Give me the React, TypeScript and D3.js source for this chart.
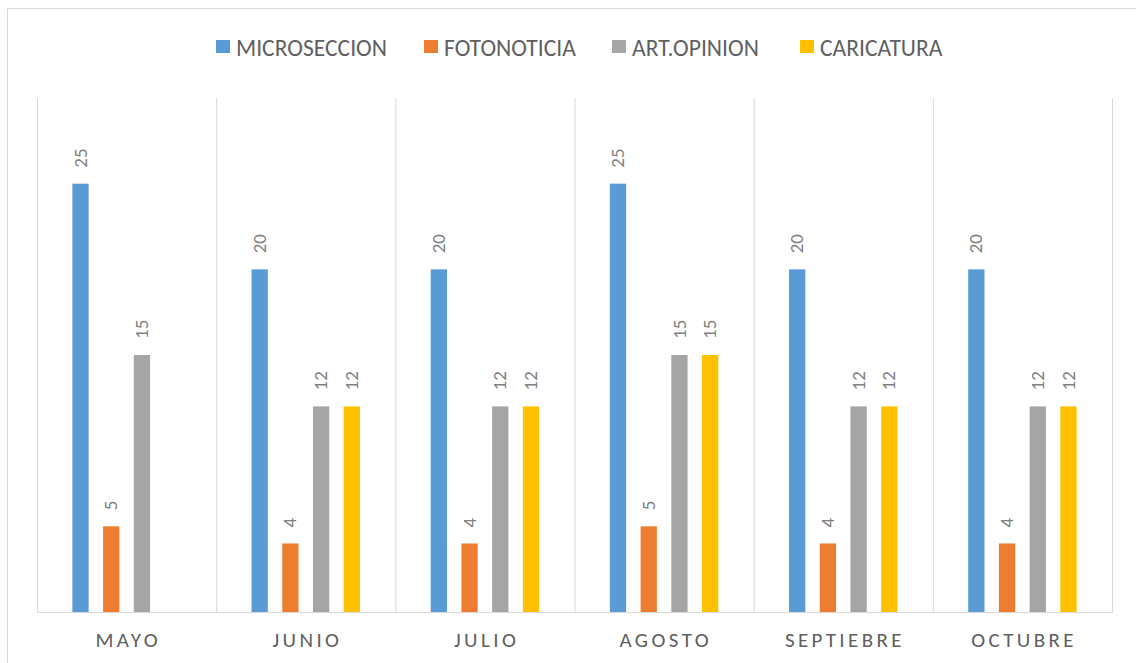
import React from "react";
import * as d3 from "d3";

const categories = ["MAYO", "JUNIO", "JULIO", "AGOSTO", "SEPTIEBRE", "OCTUBRE"];
const seriesNames = ["MICROSECCION", "FOTONOTICIA", "ART.OPINION", "CARICATURA"];
const microseccion = [25, 20, 20, 25, 20, 20];
const fotonoticia = [5, 4, 4, 5, 4, 4];
const artOpinion = [15, 12, 12, 15, 12, 12];
const caricatura = [null, 12, 12, 15, 12, 12];
const colors = ["#5B9BD5", "#ED7D31", "#A5A5A5", "#FFC000"];
const yMax = 30;

const W = 1136;
const H = 663;
const plot = { left: 37, right: 1112, top: 98, bottom: 612 };
const FONT = "Carlito, Calibri, 'Open Sans', sans-serif";

export default function App() {
  const seriesValues = [microseccion, fotonoticia, artOpinion, caricatura];
  const x0 = d3.scaleBand<string>().domain(categories).range([plot.left, plot.right]).paddingInner(0).paddingOuter(0);
  const bw = x0.bandwidth();
  const groupWidth = bw * 0.605;
  const x1 = d3
    .scaleBand<string>()
    .domain(seriesNames)
    .range([(bw - groupWidth) / 2, (bw + groupWidth) / 2])
    .paddingInner(0.47)
    .paddingOuter(0);
  const y = d3.scaleLinear().domain([0, yMax]).range([plot.bottom, plot.top]);

  const legendX = [216, 424, 612, 800];
  const labelSize = 19;
  const catSpacing = 3.4;

  return (
    <svg
      width={W}
      height={H}
      style={{ position: "absolute", left: 0, top: 0, background: "#fff" }}
      fontFamily={FONT}
    >
      <rect x={0} y={0} width={W} height={H} fill="#fff" />
      {/* outer chart border */}
      <path d={`M7.5,${H + 2} V8.5 H${W + 2}`} fill="none" stroke="#d9d9d9" strokeWidth={1} />
      {/* vertical gridlines */}
      {categories.map((c) => (
        <line key={c} x1={x0(c)! + 0.5} x2={x0(c)! + 0.5} y1={plot.top} y2={plot.bottom} stroke="#d9d9d9" />
      ))}
      <line x1={plot.right + 0.5} x2={plot.right + 0.5} y1={plot.top} y2={plot.bottom} stroke="#d9d9d9" />
      {/* bars */}
      {categories.map((c, i) =>
        seriesNames.map((s, k) => {
          const v = seriesValues[k][i];
          if (v == null) return null;
          const bx = x0(c)! + x1(s)!;
          const bwid = x1.bandwidth();
          const top = y(v);
          return (
            <g key={c + s}>
              <rect x={bx} y={top} width={bwid} height={y(0) - top} fill={colors[k]} />
              <text
                transform={`translate(${bx + bwid / 2 + labelSize * 0.32},${top - 16}) rotate(-90)`}
                fontSize={labelSize}
                fill="#808080"
                textAnchor="start"
              >
                {v}
              </text>
            </g>
          );
        })
      )}
      {/* baseline */}
      <line x1={plot.left} x2={plot.right + 1} y1={plot.bottom + 0.5} y2={plot.bottom + 0.5} stroke="#d9d9d9" />
      {/* category labels */}
      {categories.map((c) => (
        <text
          key={c}
          x={x0(c)! + bw / 2 + catSpacing / 2}
          y={647}
          textAnchor="middle"
          fontSize={21}
          letterSpacing={catSpacing}
          fill="#5f5f5f"
        >
          {c}
        </text>
      ))}
      {/* legend */}
      {seriesNames.map((s, k) => (
        <g key={s}>
          <rect x={legendX[k]} y={40} width={14} height={13} fill={colors[k]} />
          <text x={legendX[k] + 20} y={55.5} fontSize={23.6} fill="#5f5f5f">
            {s}
          </text>
        </g>
      ))}
    </svg>
  );
}
